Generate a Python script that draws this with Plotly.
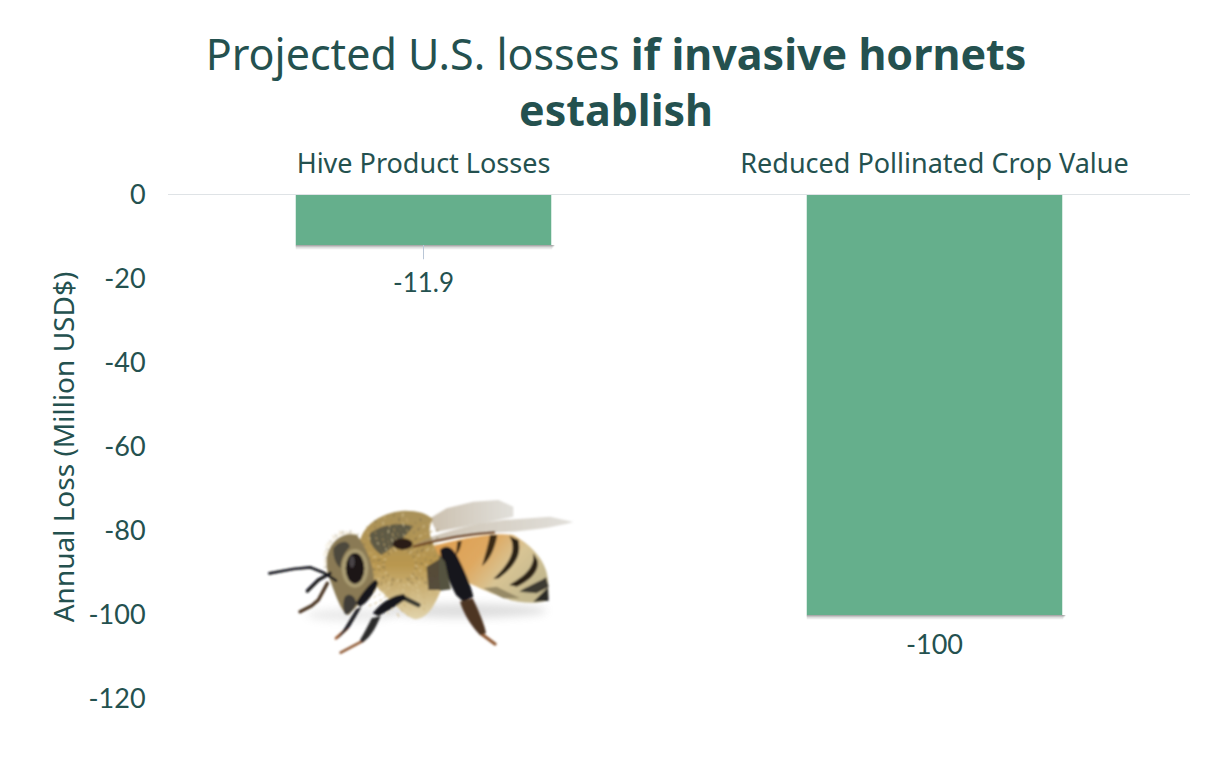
import base64
import math
import plotly.graph_objects as go

categories = ["Hive Product Losses", "Reduced Pollinated Crop Value"]
values = [-11.9, -100]
value_labels = ["-11.9", "-100"]
y_ticks = [0, -20, -40, -60, -80, -100, -120]
title_html = "Projected U.S. losses <b>if invasive hornets<br>establish</b>"
y_title = "Annual Loss (Million USD$)"

TEXT = "#24514F"
BAR = "#65AF8C"
W, H = 1212, 762
L, R, T, B = 168, 22, 195, 63
TITLE_FONT = "Noto Sans"
LABEL_FONT = "Lato"


def fur():
    """Decorative hair strokes for the bee's thorax and head."""
    out = []
    tones = ["#c9ae74", "#8d7a50", "#e0cfa0", "#a98f55", "#6e6248"]
    for row in range(3, 11):
        for col in range(0, 34):
            a = col / 34 * 2 * math.pi + row * 0.07
            rx, ry = 15 * row, 14.5 * row
            x, y = 450 + rx * math.cos(a), 225 + ry * math.sin(a)
            if x < 345 or x > 560:
                continue
            ln = 7 + (col * 7 % 6)
            tone = tones[(row * 3 + col) % 5]
            if y > 280:
                tone = ["#e0cfa0", "#d6c08c", "#c9ae74"][col % 3]
            d = a + 0.5 * math.sin(col)
            out.append(f'<line x1="{x:.1f}" y1="{y:.1f}" x2="{x+ln*math.cos(d):.1f}" y2="{y+ln*math.sin(d):.1f}" '
                       f'stroke="{tone}" stroke-width="3.5" opacity=".7"/>')
    for col in range(0, 26):
        a = math.pi * 0.75 + col / 26 * math.pi * 0.95
        x, y = 290 + 58 * math.cos(a), 205 + 72 * math.sin(a)
        ln = 8 + (col * 5 % 7)
        out.append(f'<line x1="{x:.1f}" y1="{y:.1f}" x2="{x+ln*math.cos(a):.1f}" y2="{y+ln*math.sin(a):.1f}" '
                   f'stroke="{tones[col % 3]}" stroke-width="3" opacity=".7"/>')
    return "".join(out)


bee_svg = f'''<svg xmlns="http://www.w3.org/2000/svg" width="1020" height="525" viewBox="0 0 1020 525">
<defs>
<filter id="s" x="-20%" y="-60%" width="140%" height="220%"><feGaussianBlur stdDeviation="13"/></filter>
<filter id="b" x="-5%" y="-5%" width="110%" height="110%"><feGaussianBlur stdDeviation="2.6"/></filter>
<linearGradient id="ab" x1="0" y1="0" x2="1" y2="0.5"><stop offset="0" stop-color="#dd9c4c"/><stop offset=".45" stop-color="#dfa860"/><stop offset=".72" stop-color="#d8c494"/><stop offset="1" stop-color="#c4b88e"/></linearGradient>
<linearGradient id="th" x1="0" y1="0" x2="0" y2="1"><stop offset="0" stop-color="#a8915a"/><stop offset=".5" stop-color="#b9974f"/><stop offset="1" stop-color="#e2d4ac"/></linearGradient>
<linearGradient id="w" x1="0" y1="0" x2="1" y2="0"><stop offset="0" stop-color="#a08c6c" stop-opacity=".55"/><stop offset="1" stop-color="#c4c0b6" stop-opacity=".5"/></linearGradient>
</defs>
<ellipse cx="640" cy="362" rx="250" ry="22" fill="#8c8c8c" opacity=".28" filter="url(#s)"/>
<ellipse cx="300" cy="375" rx="130" ry="18" fill="#8c8c8c" opacity=".18" filter="url(#s)"/>
<g filter="url(#b)">
<path d="M540 85 L590 55 L670 35 L745 30 L790 50 L790 80 L700 100 L560 125Z" fill="url(#w)"/>
<path d="M895 285 C895 225 860 175 790 135 C720 125 620 150 540 170 C570 240 660 285 740 315 C790 340 860 345 895 330Z" fill="url(#ab)"/>
<path d="M778 138 C800 175 785 215 730 267 L746 265 C800 225 815 190 805 150Z" fill="#2b2117"/>
<path d="M850 190 C855 235 820 260 778 285 L800 290 C845 270 870 240 862 210Z" fill="#2b2117"/>
<path d="M888 262 C860 280 830 290 808 305 L860 310 L896 290Z" fill="#3d3a32"/>
<path d="M894 292 L896 332 L850 335Z" fill="#2b2b28"/>
<path d="M720 135 L742 135 C735 175 720 210 696 228 C705 195 715 165 720 135Z" fill="#3a2a18"/>
<path d="M622 155 L635 152 C633 170 628 185 618 195Z" fill="#3a2a18"/>
<path d="M700 295 L740 290 L810 325 L760 325Z" fill="#7f7454" opacity=".7"/>
<path d="M330 150 C350 90 410 65 465 62 C505 62 530 70 548 88 C530 120 540 150 570 200 L575 295 C555 345 535 385 495 388 C465 380 430 340 400 310 C365 280 335 225 330 150Z" fill="url(#th)"/>
<path d="M360 130 C400 100 450 98 490 108 C470 135 440 165 395 195 C370 180 355 155 360 130Z" fill="#5f5a45"/>
{fur()}
<path d="M530 230 L572 205 L580 300 L535 300Z" fill="#4a4335" opacity=".9"/>
<path d="M232 195 C245 150 280 125 320 135 C345 165 375 230 372 280 C350 320 325 345 295 375 C275 370 255 310 240 270 C230 240 228 220 232 195Z" fill="#8a7a55"/>
<path d="M250 175 C270 150 295 150 300 170 C285 185 270 210 272 235 C258 225 248 200 250 175Z" fill="#4e4a3c"/>
<path d="M285 320 C300 305 315 320 320 340 C310 360 295 378 285 372 C278 355 278 335 285 320Z" fill="#3f3d38"/>
<ellipse cx="315" cy="235" rx="40" ry="58" fill="#a99b72"/>
<ellipse cx="315" cy="235" rx="28" ry="46" fill="#1b1718"/>
<ellipse cx="306" cy="215" rx="8" ry="18" fill="#4a4446"/>
<g fill="none" stroke-linecap="round" stroke-linejoin="round">
<path d="M58 250 L130 237 L180 232 L225 250 L258 272" stroke="#16181c" stroke-width="8"/>
<path d="M172 303 L205 270 L240 250" stroke="#16181c" stroke-width="10"/>
<path d="M232 280 L205 330 L185 347 L150 365" stroke="#4a3424" stroke-width="10"/>
<path d="M292 415 L258 445" stroke="#9a5a30" stroke-width="8"/>
<path d="M340 452 L272 488" stroke="#8f5a34" stroke-width="8"/>
<path d="M692 430 L735 462" stroke="#8f5a34" stroke-width="10"/>
<path d="M458 322 L505 345" stroke="#3a3a32" stroke-width="14"/>
</g>
<path d="M378 268 L385 280 C370 315 350 340 330 350 L318 340 C335 310 355 285 378 268Z" fill="#15151a"/>
<path d="M318 358 L335 350 L300 410 L262 448 L285 412Z" fill="#1f1f22"/>
<path d="M368 370 C395 335 430 315 462 312 L470 325 C445 345 410 365 385 378Z" fill="#15151a"/>
<path d="M365 385 L392 378 C375 420 355 450 335 458 L330 450 C345 425 355 405 365 385Z" fill="#2c2c2c"/>
<path d="M570 180 C590 160 610 170 630 215 C650 255 665 295 670 320 L640 335 L618 315 C600 280 575 225 570 180Z" fill="#17171a"/>
<path d="M568 195 L585 215 L603 298 L570 302 C565 270 566 235 568 195Z" fill="#55523f"/>
<path d="M630 335 L668 325 C690 370 705 410 708 430 L690 435 C665 410 640 370 630 335Z" fill="#4d3522"/>
<path d="M490 165 C560 130 650 105 760 90 L900 80 L970 96 C900 115 820 125 720 128 C640 135 560 150 490 165Z" fill="url(#w)"/>
<path d="M490 170 C560 150 640 132 735 127" fill="none" stroke="#6b3f1c" stroke-width="7"/>
<ellipse cx="458" cy="162" rx="30" ry="17" fill="#2a1b14"/>
</g>
</svg>'''
bee_uri = "data:image/svg+xml;base64," + base64.b64encode(bee_svg.encode()).decode()

fig = go.Figure()
fig.add_trace(go.Bar(x=categories, y=values, marker=dict(color=BAR, line_width=0),
                     width=0.5, hoverinfo="skip"))

shapes = []
for i, v in enumerate(values):
    for k, (d, op) in enumerate([(1.0, .10), (0.6, .16), (0.3, .25)]):
        shapes.append(dict(type="rect", xref="x", yref="y", layer="below", line_width=0,
                           x0=i - .25, x1=i + .25 + .002 * (k + 1),
                           y0=v, y1=v - d, fillcolor=f"rgba(60,60,60,{op})"))
shapes.append(dict(type="line", xref="x", yref="y", x0=0, x1=0, y0=values[0], y1=values[0] - 3.4,
                   line=dict(color="#b9c6d6", width=1)))

annots = [dict(x=c, y=v, xref="x", yref="y", text=t, showarrow=False, yanchor="middle",
               yshift=-(37 if i == 0 else 28), font=dict(family=LABEL_FONT, size=26 if i == 0 else 27, color=TEXT))
          for i, (c, v, t) in enumerate(zip(categories, values, value_labels))]

fig.update_layout(
    width=W, height=H, autosize=False,
    margin=dict(l=L, r=R, t=T, b=B, pad=0),
    paper_bgcolor="white", plot_bgcolor="white",
    showlegend=False,
    bargap=0.5,
    title=dict(text=title_html, x=616 / W, xanchor="center", y=1 - 70 / H, yanchor="top",
               font=dict(family=TITLE_FONT, size=43, color=TEXT)),
    xaxis=dict(side="top", type="category", showgrid=False, ticks="outside", ticklen=10,
               tickcolor="rgba(0,0,0,0)", showline=True,
               linecolor="#dfe3e6", linewidth=1, zeroline=False,
               tickfont=dict(family=TITLE_FONT, size=27, color=TEXT), fixedrange=True),
    yaxis=dict(range=[-120, 0], tickvals=y_ticks, ticktext=[str(t) for t in y_ticks],
               showgrid=False, zeroline=False, showline=False,
               ticks="outside", ticklen=16, tickcolor="rgba(0,0,0,0)", tickwidth=1,
               tickfont=dict(family=LABEL_FONT, size=27, color=TEXT),
               title=dict(text=y_title, standoff=5,
                          font=dict(family=TITLE_FONT, size=28, color=TEXT)),
               fixedrange=True),
    shapes=shapes,
    annotations=annots,
    images=[dict(source=bee_uri, xref="paper", yref="paper",
                 x=(250 - L) / (W - L - R), y=1 - (490 - T) / (H - T - B),
                 sizex=340 / (W - L - R), sizey=175 / (H - T - B),
                 sizing="stretch", xanchor="left", yanchor="top", layer="above")],
)

fig.write_html("out.html", config={"displayModeBar": False},
               post_script="document.body.style.margin='0';")
